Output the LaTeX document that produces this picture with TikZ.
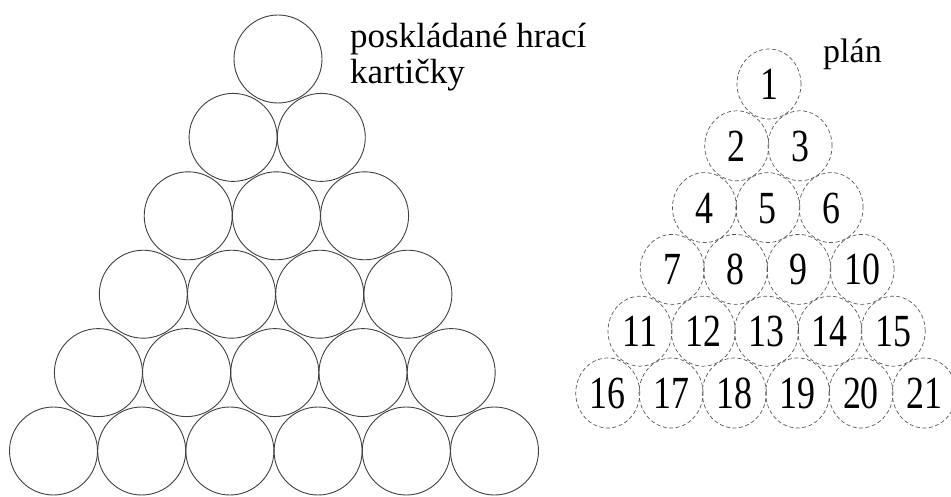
\documentclass[tikz,border=0pt]{standalone}
\usepackage{fontspec}
\setmainfont{Liberation Serif}
\usetikzlibrary{shapes.geometric}

\tikzset{
  card/.style={circle, draw=black!75, line width=0.9pt, minimum size=88pt, inner sep=0pt},
  slot/.style={ellipse, draw=black!65, line width=0.7pt, dash pattern=on 4pt off 2.5pt,
               minimum width=64pt, minimum height=70pt, inner sep=0pt,
               text height=31pt, text depth=0pt,
               font=\fontsize{46}{46}\selectfont},
  caption/.style={anchor=base west, inner sep=0pt, font=\fontsize{35}{35}\selectfont},
}
\newcommand{\narrow}[1]{\scalebox{0.78}[1]{#1}}

\begin{document}
\begin{tikzpicture}[x=1pt, y=-1pt]
  \useasboundingbox (0,0) rectangle (951,497);

  % stacked cards: six rows of touching circles
  \foreach \i in {0,...,5}{
    \foreach \j in {0,...,\i}{
      \pgfmathsetmacro{\cx}{278 - 0.8*\i + 88.2*(\j - \i/2)}
      \pgfmathsetmacro{\cy}{59 + 78.4*\i}
      \node[card] (c-\i-\j) at (\cx,\cy) {};
    }
  }
  \node[caption] (lbl1) at (350,48) {poskládané hrací};
  \node[caption] (lbl2) at (350,84) {kartičky};

  % numbered plan of the same pyramid
  \foreach \i in {0,...,5}{
    \foreach \j in {0,...,\i}{
      \pgfmathtruncatemacro{\n}{\i*(\i+1)/2 + \j + 1}
      \pgfmathsetmacro{\px}{769 - 0.6*\i + 63.3*(\j - \i/2)}
      \pgfmathsetmacro{\py}{84 + 61.8*\i}
      \node[slot] (p-\n) at (\px,\py) {\narrow{\n}};
    }
  }
  \node[caption, font=\fontsize{34}{34}\selectfont] (plan) at (823,63) {plán};
\end{tikzpicture}
\end{document}
